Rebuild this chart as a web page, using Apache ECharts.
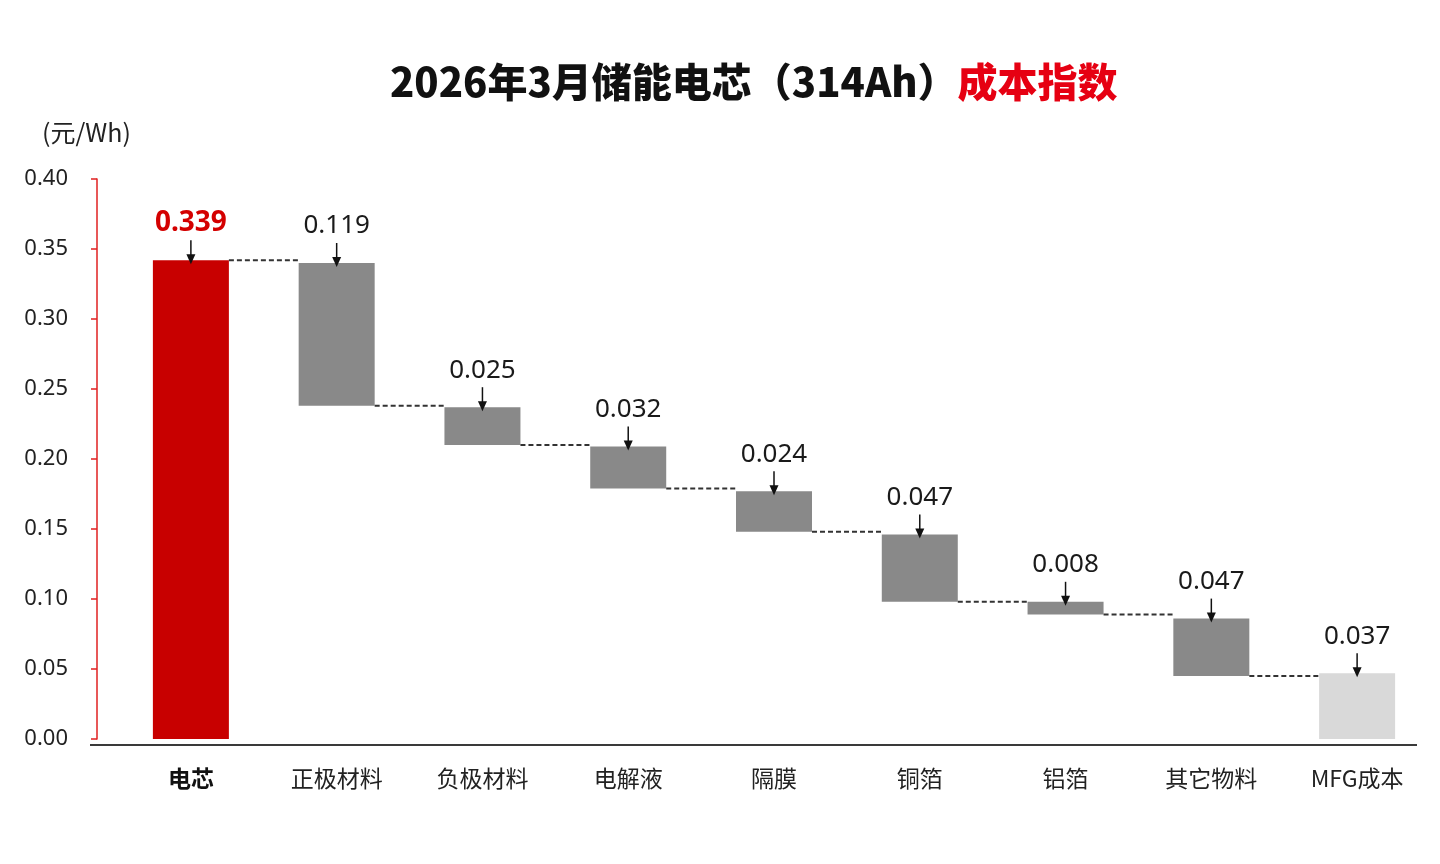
<!DOCTYPE html>
<html>
<head>
<meta charset="utf-8">
<script src="https://cdn.jsdelivr.net/npm/echarts@6/dist/echarts.min.js"></script>
<style>
html,body{margin:0;padding:0;background:#ffffff;}
#chart{width:1440px;height:864px;}
</style>
</head>
<body>
<div id="chart"></div>
<script>
// ---- data ----
const categories = ['电芯', '正极材料', '负极材料', '电解液', '隔膜', '铜箔', '铝箔', '其它物料', 'MFG成本'];
// printed values (元/Wh)
const values = [0.339, 0.119, 0.025, 0.032, 0.024, 0.047, 0.008, 0.047, 0.037];
// drawn bar extents as they appear in the picture
const barTop  = [0.342, 0.340, 0.237, 0.209, 0.177, 0.146, 0.098, 0.086, 0.047];
const barBase = [0.000, 0.238, 0.210, 0.179, 0.148, 0.098, 0.089, 0.045, 0.000];
const yMin = 0, yMax = 0.40, yStep = 0.05;
const titleMain = '2026年3月储能电芯（314Ah）';
const titleRed = '成本指数';
const unitLabel = '(元/Wh)';

// ---- styles ----
const RED = '#c80000';
const GRAY = '#898989';
const LIGHT = '#d9d9d9';
const BAR_W = 76;
const NUM_FONT = "'Noto Sans', 'Noto Sans CJK SC', sans-serif";
const CJK_FONT = "'Noto Sans CJK SC', 'Noto Sans', sans-serif";

function barColor(i) {
  if (i === 0) return RED;
  if (i === categories.length - 1) return LIGHT;
  return GRAY;
}

const baseData = barBase.map(v => v);
const heightData = barTop.map((t, i) => ({
  value: +(t - barBase[i]).toFixed(4),
  itemStyle: { color: barColor(i) }
}));
const annotData = barTop.map((t, i) => [i, t, values[i]]);
const connectorData = [];
for (let i = 0; i < categories.length - 1; i++) {
  connectorData.push([i, i === 0 ? barTop[0] : barBase[i]]);
}

const chart = echarts.init(document.getElementById('chart'), null, { renderer: 'canvas' });

const option = {
  backgroundColor: '#ffffff',
  animation: false,
  title: [
    {
      left: 385, top: 57,
      text: '{a|' + titleMain + '}{b|' + titleRed + '}',
      textStyle: {
        rich: {
          a: { fontSize: 40, fontWeight: 900, color: '#111111', fontFamily: CJK_FONT },
          b: { fontSize: 40, fontWeight: 900, color: '#e60012', fontFamily: CJK_FONT }
        }
      }
    },
    {
      left: 37, top: 115,
      text: unitLabel,
      textStyle: { fontSize: 25, fontWeight: 'normal', color: '#222222', fontFamily: CJK_FONT }
    }
  ],
  grid: { left: 118, right: 10, top: 179, bottom: 125, containLabel: false },
  xAxis: {
    type: 'category',
    data: categories,
    axisLine: { show: false },
    axisTick: { show: false },
    axisLabel: {
      margin: 28,
      fontSize: 23,
      color: '#222222',
      fontFamily: CJK_FONT,
      formatter: function (v, i) { return i === 0 ? '{b|' + v + '}' : v; },
      rich: { b: { fontSize: 23, fontWeight: 'bold', color: '#111111', fontFamily: CJK_FONT } }
    },
    splitLine: { show: false }
  },
  yAxis: {
    type: 'value',
    min: yMin, max: yMax, interval: yStep,
    offset: 21,
    axisLine: { show: true, lineStyle: { color: '#e02020', width: 1.5 } },
    axisTick: { show: true, inside: false, length: 6, lineStyle: { color: '#e02020', width: 1.5 } },
    axisLabel: {
      margin: 29,
      fontSize: 22,
      color: '#222222',
      fontFamily: NUM_FONT,
      formatter: v => v.toFixed(2)
    },
    splitLine: { show: false }
  },
  series: [
    {
      name: 'base', type: 'bar', stack: 'w',
      data: baseData,
      barWidth: BAR_W,
      itemStyle: { color: 'rgba(0,0,0,0)' },
      silent: true
    },
    {
      name: 'value', type: 'bar', stack: 'w',
      data: heightData,
      barWidth: BAR_W
    },
    {
      name: 'connectors', type: 'custom', silent: true, z: 5,
      data: connectorData,
      renderItem: function (params, api) {
        const i = api.value(0), lv = api.value(1);
        const p1 = api.coord([i, lv]);
        const p2 = api.coord([i + 1, lv]);
        return {
          type: 'line',
          shape: { x1: p1[0] + BAR_W / 2, y1: p1[1], x2: p2[0] - BAR_W / 2, y2: p2[1] },
          style: { stroke: '#333333', lineWidth: 2, lineDash: [5, 3] }
        };
      }
    },
    {
      name: 'labels', type: 'custom', silent: true, z: 10,
      data: annotData,
      renderItem: function (params, api) {
        const i = api.value(0), top = api.value(1), val = api.value(2);
        const p = api.coord([i, top]);
        const x = p[0], y = p[1];
        const isTotal = i === 0;
        return {
          type: 'group',
          children: [
            {
              type: 'text',
              style: {
                x: x, y: y - 37,
                text: val.toFixed(3),
                fill: isTotal ? '#d40000' : '#1a1a1a',
                font: (isTotal ? 'bold 28px ' : '26px ') + NUM_FONT,
                align: 'center', verticalAlign: 'middle'
              }
            },
            {
              type: 'line',
              shape: { x1: x, y1: y - 20, x2: x, y2: y - 4 },
              style: { stroke: '#111111', lineWidth: 1.5 }
            },
            {
              type: 'polygon',
              shape: { points: [[x - 4.5, y - 6], [x + 4.5, y - 6], [x, y + 4]] },
              style: { fill: '#111111' }
            }
          ]
        };
      }
    }
  ]
};

chart.setOption(option);

// baseline of the category axis (drawn slightly below the zero tick as in the reference)
const y0 = chart.convertToPixel({ yAxisIndex: 0 }, 0);
chart.setOption({
  graphic: [{
    type: 'line', silent: true, z: 20,
    shape: { x1: 90, y1: y0 + 6, x2: 1417, y2: y0 + 6 },
    style: { stroke: '#3a3a3a', lineWidth: 2 }
  }]
});
</script>
</body>
</html>
